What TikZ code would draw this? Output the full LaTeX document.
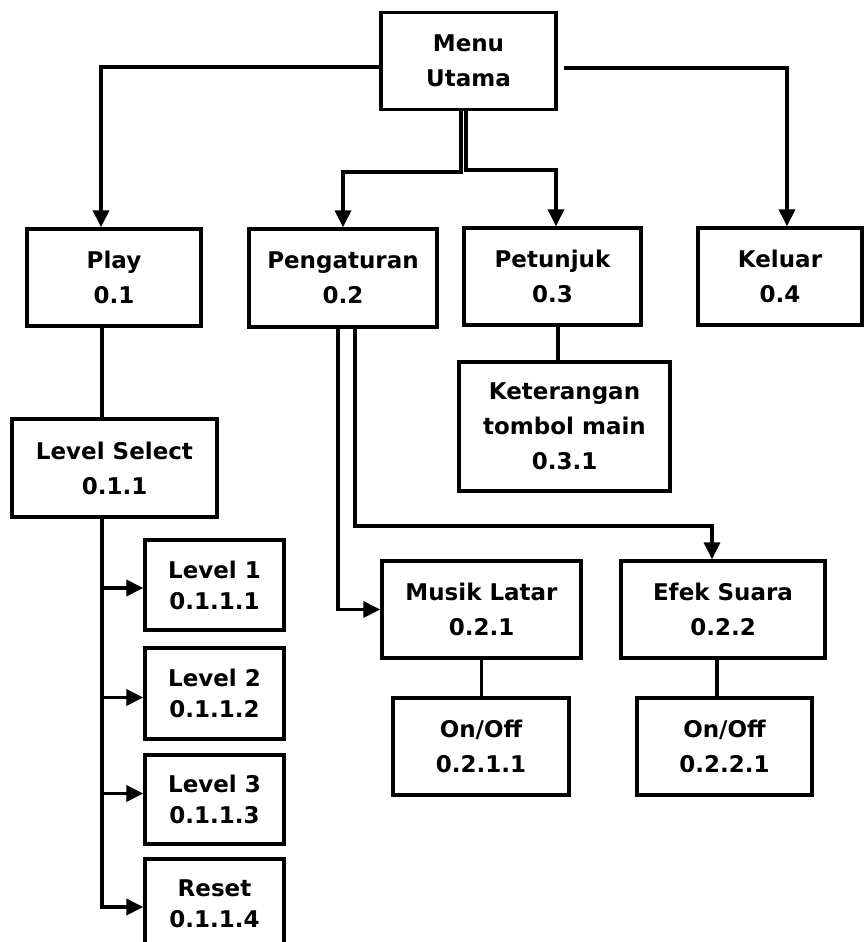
\documentclass[tikz,border=0pt]{standalone}
\usepackage{fontspec}
\setmainfont{DejaVu Sans}
\usetikzlibrary{arrows.meta,calc}

\tikzset{
  box/.style={draw, line width=3.4pt, rectangle, inner sep=0pt, align=center,
    font=\bfseries\fontsize{23}{35}\selectfont},
  tightbox/.style={box, font=\bfseries\fontsize{23}{31}\selectfont},
  link/.style={line width=3.6pt},
  arr/.style={link, -{Triangle[length=17pt,width=16pt]}}
}

\begin{document}
\begin{tikzpicture}[x=1pt, y=-1pt]
\useasboundingbox (0,0) rectangle (863,942);

% top level
\node[box, minimum width=175pt, minimum height=97pt] (menu) at (468.5,61) {Menu\\Utama};

% first level
\node[box, minimum width=174pt, minimum height=97pt] (play)   at (114,277.5)  {Play\\0.1};
\node[box, minimum width=188pt, minimum height=98pt] (peng)   at (343,278)    {Pengaturan\\0.2};
\node[box, minimum width=177pt, minimum height=97pt] (petun)  at (552.5,276.5){Petunjuk\\0.3};
\node[box, minimum width=164pt, minimum height=97pt] (keluar) at (780,276.5)  {Keluar\\0.4};

% help screen
\node[box, minimum width=211pt, minimum height=129pt] (ket) at (564.5,426.5) {Keterangan\\tombol main\\0.3.1};

% play branch
\node[box, minimum width=205pt, minimum height=98pt] (ls) at (114.5,468) {Level Select\\0.1.1};
\node[tightbox, minimum width=139pt, minimum height=90pt] (lv1)   at (214.5,585)   {Level 1\\0.1.1.1};
\node[tightbox, minimum width=139pt, minimum height=91pt] (lv2)   at (214.5,693.5) {Level 2\\0.1.1.2};
\node[tightbox, minimum width=139pt, minimum height=89pt] (lv3)   at (214.5,799.5) {Level 3\\0.1.1.3};
\node[tightbox, minimum width=139pt, minimum height=90pt] (reset) at (214.5,904)   {Reset\\0.1.1.4};

% settings branch
\node[box, minimum width=199pt, minimum height=97pt] (musik) at (481.5,609.5) {Musik Latar\\0.2.1};
\node[box, minimum width=204pt, minimum height=97pt] (efek)  at (723,609.5)   {Efek Suara\\0.2.2};
\node[box, minimum width=176pt, minimum height=97pt] (on1)   at (481,746.5)   {On/Off\\0.2.1.1};
\node[box, minimum width=175pt, minimum height=97pt] (on2)   at (724.5,746.5) {On/Off\\0.2.2.1};

% main menu connectors
\draw[arr] ($(menu.west)+(0,6)$) -| ($(play.north)+(-13,0)$);
\draw[arr] ($(menu.east)+(6,7)$) -| ($(keluar.north)+(7,0)$);
\draw[arr] ($(menu.south)+(-7.5,0)$) -- ++(0,60.5) -| (peng.north);
\draw[arr] ($(menu.south)+(-2.5,0)$) -- ++(0,58.5) -| ($(petun.north)+(3.5,0)$);

% help
\draw[link] ($(petun.south)+(5.5,0)$) coordinate (pk) -- (pk |- ket.north);

% play -> level select -> levels
\draw[link] ($(play.south)+(-12,0)$) coordinate (pl) -- (pl |- ls.north);
\draw[arr] ($(ls.south)+(-12.5,0)$) coordinate (tr) |- ($(reset.west)+(0,3)$);
\draw[arr] ($(tr |- lv1.west)+(0,3)$) -- ($(lv1.west)+(0,3)$);
\draw[arr] ($(tr |- lv2.west)+(0,4)$) -- ($(lv2.west)+(0,4)$);
\draw[arr] ($(tr |- lv3.west)+(0,-6)$) -- ($(lv3.west)+(0,-6)$);

% settings
\draw[arr] ($(peng.south)+(-5,0)$) |- (musik.west);
\draw[arr] ($(peng.south)+(12,0)$) -- ++(0,197) -| ($(efek.north)+(-11,0)$);
\draw[link] (musik.south) -- (musik.south |- on1.north);
\draw[link] ($(efek.south)+(-6,0)$) coordinate (eo) -- (eo |- on2.north);
\end{tikzpicture}
\end{document}
